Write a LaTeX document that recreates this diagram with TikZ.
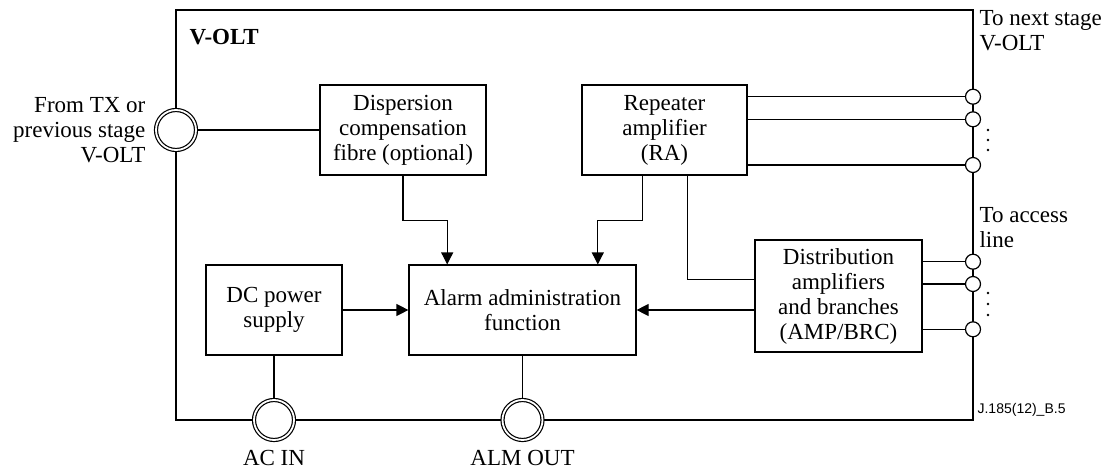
\documentclass[tikz,border=0pt]{standalone}
\usepackage{fontspec}
\setmainfont{Liberation Serif}
\newfontfamily\refsans{Liberation Sans}
\usetikzlibrary{positioning, arrows.meta, calc}

\begin{document}
\begin{tikzpicture}[x=0.5pt, y=-0.5pt, line width=0.6pt,
    font=\fontsize{11.5}{12.5}\selectfont,
    bloc/.style={draw, align=center, inner sep=2pt},
    gros/.style={draw, circle, double, double distance=0.9pt, fill=white,
        minimum size=20pt, inner sep=0pt, outer sep=1.1pt},
    sortie/.style={draw, circle, fill=white, minimum size=7.5pt, inner sep=0pt},
    fleche/.style={-{Triangle[length=6pt, width=6pt]}},
    etiq/.style={inner sep=0pt}]
    \useasboundingbox (0,0) rectangle (1110,471);

    % Cadre V-OLT
    \draw (176,10) rectangle (973,420);
    \node[etiq, anchor=west, font=\fontsize{11.5}{12.5}\selectfont\bfseries] at (189,37) {V-OLT};

    % Blocs
    \node[bloc, minimum width=83pt, minimum height=45pt] (disp) at (403,130) {Dispersion\\compensation\\fibre (optional)};
    \node[bloc, minimum width=82.5pt, minimum height=45pt] (ra) at (664.5,130) {Repeater\\amplifier\\(RA)};
    \node[bloc, minimum width=68pt, minimum height=45pt] (dc) at (274,310) {DC power\\supply};
    \node[bloc, minimum width=113.5pt, minimum height=45pt] (alarm) at (522.5,310) {Alarm administration\\function};
    \node[bloc, minimum width=83.5pt, minimum height=56pt] (dist) at (838.5,296) {Distribution\\amplifiers\\and branches\\(AMP/BRC)};

    % Connecteurs
    \node[gros] (entree) at (176,130) {};
    \node[gros] (acin) at (274,420) {};
    \node[gros] (almout) at (522.5,420) {};
    \foreach \y [count=\i] in {96.7,119.3,165} \node[sortie] (p\i) at (973,\y) {};
    \foreach \y [count=\i] in {261.7,284,329.3} \node[sortie] (q\i) at (973,\y) {};
    \foreach \y in {130,140,150,293,304,315} \fill (988,\y) circle (0.7pt);

    % Liaisons
    \draw (entree) -- (disp);
    \draw (dc) -- (acin);
    \draw (alarm) -- (almout);
    \draw[fleche] (dc) -- (alarm);
    \draw[fleche] (dist.west |- alarm.east) -- (alarm.east);
    \draw[fleche] (disp.south) -- ++(0,45) -| ($(alarm.north west)!0.17!(alarm.north east)$);
    \draw[fleche] ($(ra.south west)!0.37!(ra.south east)$) -- ++(0,45) -| ($(alarm.north west)!0.83!(alarm.north east)$);
    \draw ($(ra.south west)!0.636!(ra.south east)$) |- ($(dist.north west)!0.357!(dist.south west)$);
    \foreach \i in {1,2,3} {
        \draw (ra.east |- p\i) -- (p\i);
        \draw (dist.east |- q\i) -- (q\i);
    }

    % Etiquettes
    \node[etiq, align=right, anchor=east] at (146,130) {From TX or\\previous stage\\V-OLT};
    \node[etiq, align=left, anchor=west] at (979,31) {To next stage\\V-OLT};
    \node[etiq, align=left, anchor=west] at (979,228) {To access\\line};
    \node[etiq] at (274,458) {AC IN};
    \node[etiq] at (522.5,458) {ALM OUT};
    \node[etiq, anchor=west, font=\refsans\fontsize{7}{8}\selectfont] at (977,410) {J.185(12)\_B.5};
\end{tikzpicture}
\end{document}
